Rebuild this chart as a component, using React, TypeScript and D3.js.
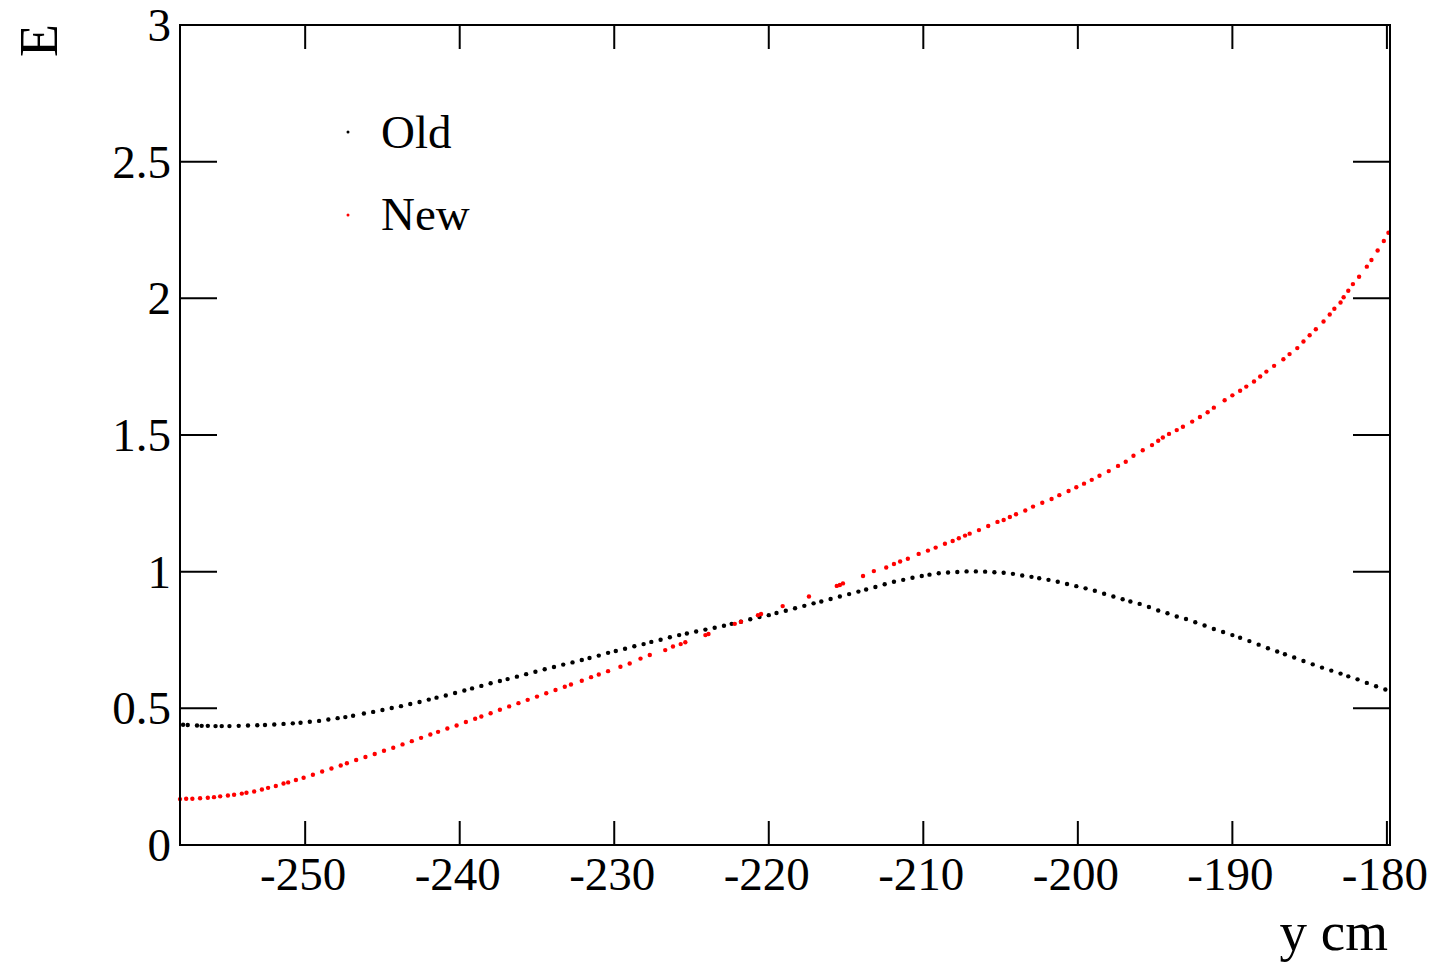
import React from "react";
import * as d3 from "d3";

// ---- data ----
const xTicks = [-250, -240, -230, -220, -210, -200, -190, -180];
const xTickLabels = ["-250", "-240", "-230", "-220", "-210", "-200", "-190", "-180"];
const yTicks = [0, 0.5, 1, 1.5, 2, 2.5, 3];
const yTickLabels = ["0", "0.5", "1", "1.5", "2", "2.5", "3"];
const seriesNames = ["Old", "New"];
const seriesColors = ["#000000", "#ff0000"];

const oldX = [
  -257.9, -257.6, -257.0, -256.7, -256.3, -255.8, -255.4, -254.9, -254.3, -253.7,
  -253.1, -252.6, -252.0, -251.4, -250.8, -250.3, -249.7, -249.1, -248.5, -247.9,
  -247.4, -246.9, -246.2, -245.6, -245.0, -244.4, -243.8, -243.2, -242.6, -242.0,
  -241.5, -240.9, -240.3, -239.7, -239.2, -238.6, -238.0, -237.4, -236.9, -236.3,
  -235.7, -235.1, -234.5, -233.9, -233.3, -232.7, -232.1, -231.6, -231.0, -230.4,
  -229.9, -229.3, -228.7, -228.1, -227.6, -227.0, -226.4, -225.8, -225.3, -224.7,
  -224.1, -223.5, -222.9, -222.4, -221.8, -221.2, -220.6, -220.0, -219.5, -218.9,
  -218.3, -217.7, -217.1, -216.6, -216.0, -215.4, -214.8, -214.2, -213.7, -213.1,
  -212.5, -211.9, -211.3, -210.7, -210.1, -209.6, -209.0, -208.4, -207.8, -207.2,
  -206.6, -206.0, -205.4, -204.8, -204.2, -203.6, -203.0, -202.5, -201.9, -201.3,
  -200.7, -200.1, -199.5, -198.9, -198.3, -197.7, -197.1, -196.6, -196.0, -195.4,
  -194.8, -194.2, -193.6, -193.0, -192.4, -191.8, -191.2, -190.6, -190.0, -189.5,
  -188.9, -188.3, -187.7, -187.1, -186.6, -186.0, -185.4, -184.8, -184.2, -183.6,
  -183.0, -182.5, -181.9, -181.3, -180.7, -180.1,
];
const oldE = [
  0.440, 0.439, 0.437, 0.436, 0.436, 0.435, 0.435, 0.435, 0.436, 0.437,
  0.438, 0.439, 0.441, 0.443, 0.445, 0.447, 0.451, 0.454, 0.459, 0.464,
  0.468, 0.473, 0.481, 0.487, 0.494, 0.501, 0.508, 0.516, 0.523, 0.532,
  0.539, 0.547, 0.556, 0.565, 0.573, 0.582, 0.592, 0.600, 0.607, 0.616,
  0.625, 0.634, 0.643, 0.651, 0.660, 0.668, 0.677, 0.684, 0.693, 0.703,
  0.710, 0.718, 0.727, 0.735, 0.743, 0.751, 0.760, 0.768, 0.774, 0.781,
  0.788, 0.795, 0.802, 0.809, 0.817, 0.826, 0.834, 0.841, 0.849, 0.857,
  0.866, 0.875, 0.884, 0.891, 0.900, 0.909, 0.918, 0.927, 0.935, 0.944,
  0.954, 0.963, 0.970, 0.978, 0.984, 0.989, 0.994, 0.997, 0.999, 1.001,
  1.001, 1.000, 0.998, 0.996, 0.992, 0.986, 0.981, 0.976, 0.970, 0.963,
  0.955, 0.947, 0.939, 0.930, 0.919, 0.909, 0.899, 0.891, 0.882, 0.871,
  0.858, 0.848, 0.836, 0.827, 0.815, 0.803, 0.790, 0.779, 0.768, 0.758,
  0.746, 0.733, 0.720, 0.708, 0.698, 0.686, 0.673, 0.661, 0.649, 0.638,
  0.627, 0.617, 0.606, 0.593, 0.581, 0.569,
];

const newX = [
  -258.1, -257.7, -257.3, -256.8, -256.3, -255.9, -255.5, -255.0, -254.6, -254.1,
  -253.8, -253.3, -252.8, -252.4, -251.9, -251.4, -251.1, -250.6, -250.1, -249.5,
  -248.9, -248.3, -247.7, -247.3, -246.7, -246.1, -245.5, -244.9, -244.3, -243.7,
  -243.1, -242.5, -241.9, -241.4, -240.8, -240.2, -239.6, -239.0, -238.6, -238.0,
  -237.4, -236.8, -236.2, -235.6, -235.0, -234.4, -233.8, -233.2, -232.8, -232.1,
  -231.5, -231.0, -230.4, -229.6, -229.0, -228.3, -227.7, -226.7, -226.2, -225.7,
  -225.4, -224.1, -223.9, -222.2, -221.8, -220.7, -220.5, -219.1, -217.4, -215.6,
  -215.4, -215.2, -213.9, -213.2, -212.4, -211.9, -211.5, -211.0, -210.3, -209.7,
  -209.2, -208.6, -208.1, -207.7, -207.3, -207.0, -206.4, -205.8, -205.2, -204.8,
  -204.4, -204.0, -203.4, -202.9, -202.3, -201.7, -201.2, -200.6, -200.1, -199.6,
  -199.1, -198.6, -198.0, -197.4, -196.9, -196.4, -195.8, -195.2, -194.8, -194.5,
  -194.1, -193.6, -193.2, -192.6, -192.1, -191.6, -191.2, -190.5, -190.0, -189.5,
  -189.1, -188.6, -188.2, -187.8, -187.3, -186.7, -186.3, -185.8, -185.4, -185.0,
  -184.6, -184.1, -183.7, -183.4, -183.0, -182.8, -182.5, -182.2, -181.8, -181.3,
  -181.0, -180.6, -180.2, -179.9,
];
const newE = [
  0.168, 0.169, 0.169, 0.171, 0.173, 0.175, 0.178, 0.181, 0.184, 0.188,
  0.191, 0.196, 0.203, 0.209, 0.216, 0.225, 0.229, 0.238, 0.246, 0.257,
  0.269, 0.280, 0.291, 0.299, 0.311, 0.322, 0.333, 0.345, 0.356, 0.368,
  0.380, 0.392, 0.404, 0.414, 0.426, 0.437, 0.450, 0.462, 0.470, 0.482,
  0.495, 0.507, 0.519, 0.531, 0.543, 0.555, 0.567, 0.579, 0.587, 0.601,
  0.614, 0.624, 0.636, 0.652, 0.664, 0.682, 0.695, 0.713, 0.726, 0.735,
  0.742, 0.768, 0.772, 0.809, 0.817, 0.841, 0.845, 0.874, 0.909, 0.948,
  0.951, 0.957, 0.984, 1.002, 1.015, 1.028, 1.037, 1.047, 1.065, 1.077,
  1.088, 1.102, 1.112, 1.122, 1.132, 1.139, 1.152, 1.167, 1.182, 1.189,
  1.200, 1.210, 1.224, 1.238, 1.252, 1.266, 1.280, 1.295, 1.309, 1.322,
  1.336, 1.351, 1.368, 1.387, 1.402, 1.424, 1.444, 1.463, 1.479, 1.491,
  1.504, 1.518, 1.530, 1.549, 1.566, 1.583, 1.600, 1.627, 1.645, 1.662,
  1.677, 1.696, 1.714, 1.732, 1.753, 1.777, 1.796, 1.818, 1.842, 1.865,
  1.887, 1.915, 1.941, 1.962, 1.985, 2.004, 2.028, 2.052, 2.079, 2.116,
  2.140, 2.175, 2.210, 2.240,
];

const xDomain = [-258.1, -179.8];
const yDomain = [0, 3];

const W = 1437;
const H = 970;
const left = 180;
const right = 1390;
const top = 25;
const bottom = 845;
const FONT = "'Liberation Serif', 'Times New Roman', serif";

export default function App() {
  const x = d3.scaleLinear().domain(xDomain).range([left, right]);
  const y = d3.scaleLinear().domain(yDomain).range([bottom, top]);

  const oldPts = oldX.map((v, i) => [v, oldE[i]]);
  const newPts = newX.map((v, i) => [v, newE[i]]);

  const xTickLen = 24;
  const yTickLen = 37;

  return (
    <svg
      width={W}
      height={H}
      style={{ position: "absolute", left: 0, top: 0, background: "#fff" }}
      fontFamily={FONT}
    >
      <rect x={0} y={0} width={W} height={H} fill="#fff" />
      {/* data */}
      <g>
        {oldPts.map((p, i) => (
          <circle key={"o" + i} cx={x(p[0])} cy={y(p[1])} r={2.2} fill={seriesColors[0]} />
        ))}
        {newPts.map((p, i) => (
          <circle key={"n" + i} cx={x(p[0])} cy={y(p[1])} r={2.2} fill={seriesColors[1]} />
        ))}
      </g>
      {/* frame */}
      <rect x={left} y={top} width={right - left} height={bottom - top} fill="none" stroke="#000" strokeWidth={2} />
      {/* x ticks */}
      {xTicks.map((t, i) => (
        <g key={"xt" + i}>
          <line x1={x(t)} x2={x(t)} y1={bottom} y2={bottom - xTickLen} stroke="#000" strokeWidth={2} />
          <line x1={x(t)} x2={x(t)} y1={top} y2={top + xTickLen} stroke="#000" strokeWidth={2} />
          <text x={x(t) - 2} y={890} fontSize={47} textAnchor="middle" fill="#000">
            {xTickLabels[i]}
          </text>
        </g>
      ))}
      {/* y ticks */}
      {yTicks.map((t, i) => (
        <g key={"yt" + i}>
          <line x1={left} x2={left + yTickLen} y1={y(t)} y2={y(t)} stroke="#000" strokeWidth={2} />
          <line x1={right} x2={right - yTickLen} y1={y(t)} y2={y(t)} stroke="#000" strokeWidth={2} />
          <text x={171} y={y(t) + 16} fontSize={47} textAnchor="end" fill="#000">
            {yTickLabels[i]}
          </text>
        </g>
      ))}
      {/* axis titles */}
      <text x={1388} y={950} fontSize={55} textAnchor="end" fill="#000">
        y cm
      </text>
      <text transform="translate(57,24) rotate(-90)" fontSize={54} textAnchor="end" fill="#000">
        E
      </text>
      {/* legend */}
      {seriesNames.map((name, i) => (
        <g key={"lg" + i}>
          <circle cx={348} cy={132 + i * 83} r={1.5} fill={seriesColors[i]} />
          <text x={381} y={148 + i * 82} fontSize={47} fill="#000">
            {name}
          </text>
        </g>
      ))}
    </svg>
  );
}
